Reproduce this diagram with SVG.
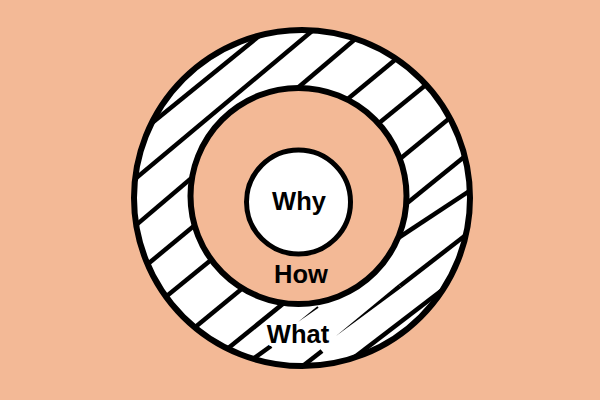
<svg xmlns="http://www.w3.org/2000/svg" width="600" height="400" viewBox="0 0 600 400">
<defs>
<clipPath id="ringClip"><circle cx="302" cy="198" r="168"/></clipPath>
<style>
.bg{fill:#F3B996}
.hatch line{stroke:#000;stroke-width:4.5;stroke-linecap:butt;fill:none}
.taper{fill:#000;stroke:none}
.ring{stroke:#000;stroke-width:6}
.lbl{font-family:"Liberation Sans",Arial,sans-serif;font-weight:bold;font-size:25.5px;fill:#000;text-anchor:middle}
.halo{paint-order:stroke;stroke:#fff;stroke-width:6;stroke-linejoin:round}
</style>
</defs>
<rect class="bg" x="0" y="0" width="600" height="400"/>
<g id="what">
  <circle cx="302" cy="198" r="168" fill="#fff"/>
  <g class="hatch" clip-path="url(#ringClip)">
    <line x1="120" y1="149" x2="290" y2="11"/>
    <line x1="110" y1="200" x2="330" y2="16"/>
    <line x1="115" y1="243" x2="380" y2="18"/>
    <line x1="120" y1="287" x2="430" y2="31"/>
    <line x1="130" y1="326" x2="465" y2="53"/>
    <line x1="165" y1="352" x2="485" y2="89"/>
    <line x1="200" y1="371" x2="490" y2="136"/>
    <line x1="235" y1="372" x2="271" y2="346"/>
    <line x1="380" y1="250" x2="480" y2="184"/>
    <line x1="290" y1="376" x2="322" y2="351"/>
    <line x1="400" y1="286" x2="480" y2="224"/>
    <line x1="343" y1="366" x2="454" y2="281"/>
    <polygon class="taper" points="298,322 318.6,307.8 317.4,306.2"/>
    <polygon class="taper" points="336,336 401.4,287.8 398.6,284.2"/>
  </g>
  <circle class="ring" cx="302" cy="198" r="168" fill="none"/>
  <text class="lbl halo" x="298" y="343">What</text>
</g>
<g id="how">
  <circle class="ring" cx="298.5" cy="196" r="108" fill="#F3B996"/>
  <text class="lbl" x="301" y="283">How</text>
</g>
<g id="why">
  <circle class="ring" cx="298.5" cy="202" r="52" fill="#fff" style="stroke-width:5"/>
  <text class="lbl" x="299" y="210">Why</text>
</g>
</svg>
